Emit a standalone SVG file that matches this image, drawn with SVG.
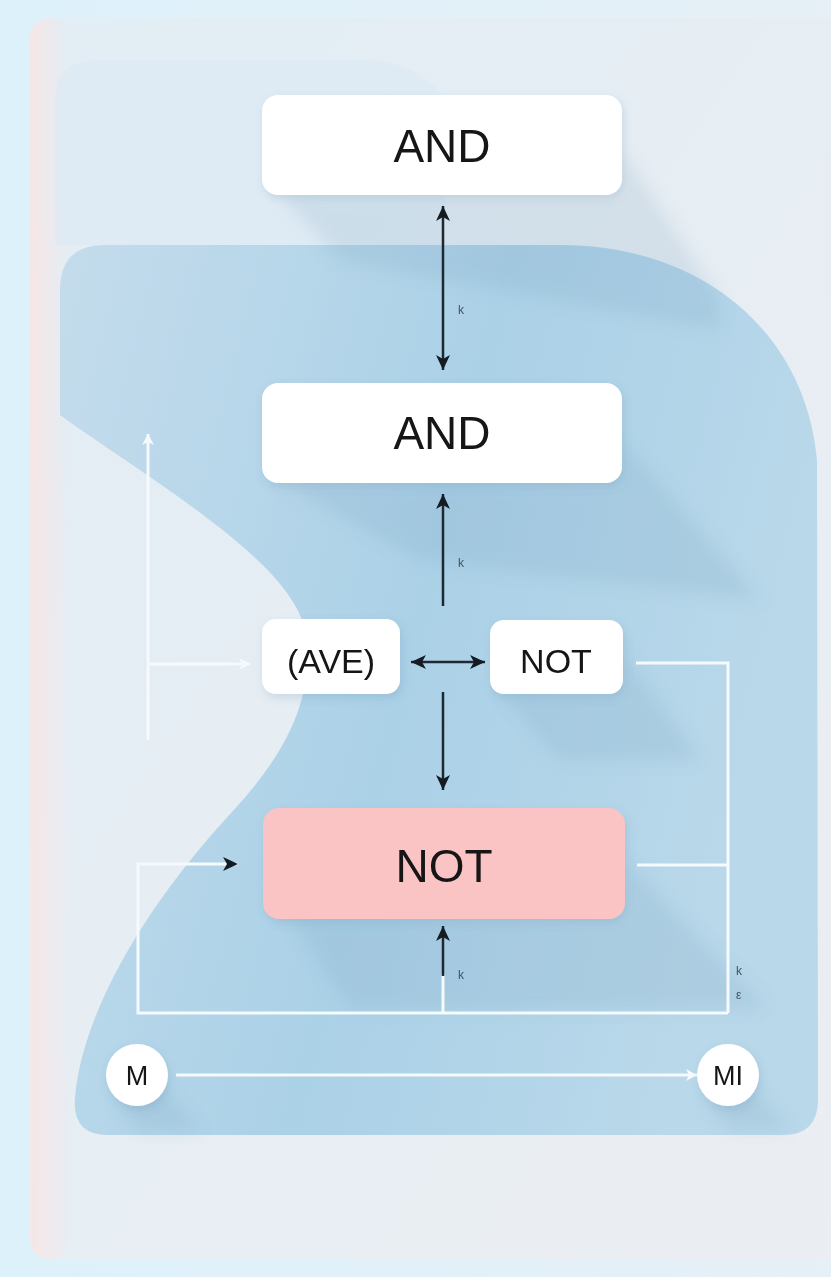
<svg xmlns="http://www.w3.org/2000/svg" width="831" height="1277" viewBox="0 0 831 1277">
  <defs>
    <style>
      .box { fill: #ffffff; }
      .pink { fill: #f9c4c3; }
      .lbl { font-family: "Liberation Sans", Arial, sans-serif; fill: #141414; text-anchor: middle; }
      .small { font-family: "Liberation Sans", Arial, sans-serif; font-size: 12px; fill: #42525e; }
      .dark { stroke: #1d2830; stroke-width: 2.5; fill: none; }
      .white { stroke: #f5fafd; stroke-width: 3; fill: none; }
      .shadow { fill: #6f9bb8; opacity: 0.17; }
    </style>
    <linearGradient id="bg" x1="0" y1="0" x2="1" y2="0">
      <stop offset="0" stop-color="#ddf1fb"/>
      <stop offset="1" stop-color="#e6f0f6"/>
    </linearGradient>
    <linearGradient id="panel" x1="0" y1="0" x2="1" y2="1">
      <stop offset="0" stop-color="#e2edf5"/>
      <stop offset="1" stop-color="#ebeef2"/>
    </linearGradient>
    <linearGradient id="blob" x1="0" y1="0" x2="1" y2="0.3">
      <stop offset="0" stop-color="#c4dcec"/>
      <stop offset="0.55" stop-color="#abd1e7"/>
      <stop offset="1" stop-color="#b9d8ea"/>
    </linearGradient>
    <linearGradient id="pinkedge" x1="0" y1="0" x2="1" y2="0">
      <stop offset="0" stop-color="#fbe4e2"/>
      <stop offset="1" stop-color="#fbe4e2" stop-opacity="0"/>
    </linearGradient>
    <filter id="blur" x="-20%" y="-20%" width="140%" height="140%">
      <feGaussianBlur stdDeviation="8"/>
    </filter>
    <filter id="ds" x="-10%" y="-20%" width="130%" height="150%">
      <feDropShadow dx="2" dy="4" stdDeviation="4" flood-color="#5a86a3" flood-opacity="0.2"/>
    </filter>
    <marker id="ah" markerUnits="userSpaceOnUse" markerWidth="16" markerHeight="14" refX="15" refY="7" orient="auto-start-reverse">
      <path d="M0,0 L15,7 L0,14 L4,7 z" fill="#141c22"/>
    </marker>
    <marker id="aw" markerUnits="userSpaceOnUse" markerWidth="12" markerHeight="12" refX="11" refY="6" orient="auto-start-reverse">
      <path d="M0,0 L11,6 L0,12 L3,6 z" fill="#f5fafd"/>
    </marker>
  </defs>

  <!-- background -->
  <rect x="0" y="0" width="831" height="1277" fill="url(#bg)"/>
  <rect x="30" y="18" width="820" height="1242" rx="26" fill="url(#panel)"/>
  <rect x="30" y="18" width="40" height="1242" rx="20" fill="url(#pinkedge)" opacity="0.8"/>
  <path d="M 55 100 Q 55 60 100 60 L 360 60 C 400 60 430 75 445 100 L 445 245 L 55 245 Z" fill="#d9e8f3" opacity="0.45"/>

  <!-- blue blob -->
  <path d="M 60 290 Q 60 245 105 245 L 560 245 C 700 245 805 330 817 460 L 818 1100 Q 818 1135 783 1135 L 108 1135 Q 72 1135 75 1098 C 82 1010 150 900 232 812 C 275 765 318 705 305 630 C 290 560 150 480 60 415 Z" fill="url(#blob)"/>

  <!-- long shadows -->
  <g filter="url(#blur)">
    <path class="shadow" d="M 280 195 L 622 195 L 622 150 L 720 300 L 720 330 L 340 260 Z"/>
    <path class="shadow" d="M 280 483 L 622 483 L 622 440 L 760 600 L 420 560 Z"/>
    <path class="shadow" d="M 500 693 L 622 693 L 622 650 L 700 760 L 560 760 Z"/>
    <path class="shadow" d="M 290 918 L 625 918 L 625 860 L 760 1000 L 760 1010 L 350 1010 Z"/>
    <path class="shadow" d="M 115 1100 L 165 1090 L 200 1130 L 140 1130 Z"/>
    <path class="shadow" d="M 705 1100 L 755 1090 L 790 1130 L 730 1130 Z"/>
  </g>

  <!-- connectors -->
  <g id="connectors">
    <line class="dark" x1="443" y1="206" x2="443" y2="370" marker-start="url(#ah)" marker-end="url(#ah)"/>
    <line class="dark" x1="443" y1="606" x2="443" y2="494" marker-end="url(#ah)"/>
    <line class="dark" x1="411" y1="662" x2="485" y2="662" marker-start="url(#ah)" marker-end="url(#ah)"/>
    <line class="dark" x1="443" y1="692" x2="443" y2="790" marker-end="url(#ah)"/>
    <line class="white" x1="443" y1="1013" x2="443" y2="974"/>
    <line class="dark" x1="443" y1="976" x2="443" y2="926" marker-end="url(#ah)"/>
    <path class="white" d="M 728 1013 L 138 1013 L 138 864 L 238 864" marker-end="url(#ah)"/>
    <path class="white" d="M 636 663 L 728 663 L 728 1013"/>
    <path class="white" d="M 637 865 L 728 865"/>
    <line class="white" x1="176" y1="1075" x2="697" y2="1075" marker-end="url(#aw)"/>
    <line class="white" x1="148" y1="740" x2="148" y2="434" marker-end="url(#aw)"/>
    <line class="white" x1="148" y1="664" x2="250" y2="664" marker-end="url(#aw)"/>
    <text class="small" x="458" y="314">k</text>
    <text class="small" x="458" y="567">k</text>
    <text class="small" x="458" y="979">k</text>
    <text class="small" x="736" y="975">k</text>
    <text class="small" x="736" y="999">ε</text>
  </g>

  <!-- nodes -->
  <g id="and-top" filter="url(#ds)">
    <rect class="box" x="262" y="95" width="360" height="100" rx="16"/>
    <text class="lbl" x="442" y="162" font-size="46">AND</text>
  </g>
  <g id="and-mid" filter="url(#ds)">
    <rect class="box" x="262" y="383" width="360" height="100" rx="16"/>
    <text class="lbl" x="442" y="449" font-size="46">AND</text>
  </g>
  <g id="ave" filter="url(#ds)">
    <rect class="box" x="262" y="619" width="138" height="75" rx="14"/>
    <text class="lbl" x="331" y="673" font-size="34">(AVE)</text>
  </g>
  <g id="not-small" filter="url(#ds)">
    <rect class="box" x="490" y="620" width="133" height="74" rx="14"/>
    <text class="lbl" x="556" y="673" font-size="34">NOT</text>
  </g>
  <g id="not-pink" filter="url(#ds)">
    <rect class="pink" x="263" y="808" width="362" height="111" rx="16"/>
    <text class="lbl" x="444" y="882" font-size="46">NOT</text>
  </g>
  <g id="m" filter="url(#ds)">
    <circle cx="137" cy="1075" r="31" fill="#ffffff"/>
    <text class="lbl" x="137" y="1085" font-size="27">M</text>
  </g>
  <g id="mi" filter="url(#ds)">
    <circle cx="728" cy="1075" r="31" fill="#ffffff"/>
    <text class="lbl" x="728" y="1085" font-size="27">MI</text>
  </g>
</svg>
